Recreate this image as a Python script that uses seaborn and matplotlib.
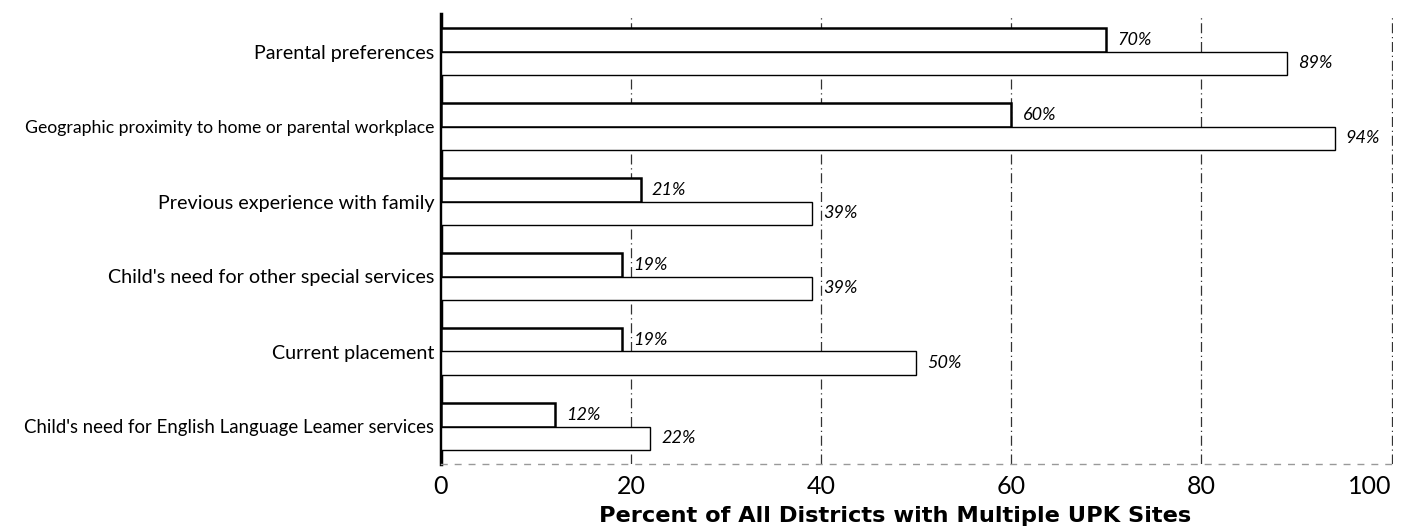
import pandas as pd
import matplotlib.pyplot as plt
import seaborn as sns

# kategorie i wartosci
kategorie = [
    'Parental preferences',
    'Geographic proximity to home or parental workplace',
    'Previous experience with family',
    "Child's need for other special services",
    'Current placement',
    "Child's need for English Language Leamer services",
]
seria_a = [70, 60, 21, 19, 19, 12]
seria_b = [89, 94, 39, 39, 50, 22]
nazwy_serii = ['Series A', 'Series B']
ticki_x = [0, 20, 40, 60, 80, 100]

df = pd.DataFrame({
    'Kategoria': kategorie * 2,
    'Wartosc': seria_a + seria_b,
    'Seria': [nazwy_serii[0]] * len(kategorie) + [nazwy_serii[1]] * len(kategorie),
})

sns.set_style('white')
plt.rcParams['font.family'] = ['Lato', 'DejaVu Sans']

fig = plt.figure(figsize=(14.12, 5.31), dpi=100)
ax = fig.add_axes([441 / 1412, 1 - 464 / 531, (1393 - 441) / 1412, (464 - 14) / 531])

sns.barplot(
    data=df, x='Wartosc', y='Kategoria', hue='Seria', orient='h',
    palette=['white', 'white'], edgecolor='black', width=0.63,
    legend=False, ax=ax, zorder=3,
)

# grubsza ramka dla pierwszej serii
for cont, lw in zip(ax.containers, [1.8, 1.0]):
    for bar in cont:
        bar.set_linewidth(lw)
    ax.bar_label(cont, labels=[f'{v:.0f}%' for v in cont.datavalues],
                 padding=8, fontsize=13, fontstyle='italic', color='black')

ax.set_xlim(0, 100.15)
ax.set_xticks(ticki_x)
ax.set_xticklabels([str(t) for t in ticki_x], fontsize=18, color='black')
ax.get_xticklabels()[-1].set_horizontalalignment('right')
ax.tick_params(axis='both', length=0, pad=8)
ax.tick_params(axis='y', labelsize=14.2, pad=5, labelcolor='black')
ax.set_ylabel('')
ax.set_xlabel('Percent of All Districts with Multiple UPK Sites',
              fontsize=16.2, fontweight='bold', family='DejaVu Sans', color='black')
ax.xaxis.set_label_coords(0.477, -0.094)

ax.grid(axis='x', linestyle=(0, (8, 3, 1, 3)), color='#333333', linewidth=0.9, zorder=0)
ax.grid(axis='y', visible=False)

for s in ['top', 'right']:
    ax.spines[s].set_visible(False)
ax.spines['left'].set_linewidth(2.5)
ax.spines['left'].set_color('black')
ax.spines['bottom'].set_linestyle((0, (4, 6)))
ax.spines['bottom'].set_color('#999999')
ax.spines['bottom'].set_linewidth(1)

# dlugie etykiety sciesnione, zeby zmiescily sie po lewej stronie
fig.canvas.draw()
r = fig.canvas.get_renderer()
for lab in ax.get_yticklabels():
    w = lab.get_window_extent(r).width
    if w > 410:
        lab.set_fontsize(14.2 * 410 / w)

fig.savefig('out.png', dpi=100)
